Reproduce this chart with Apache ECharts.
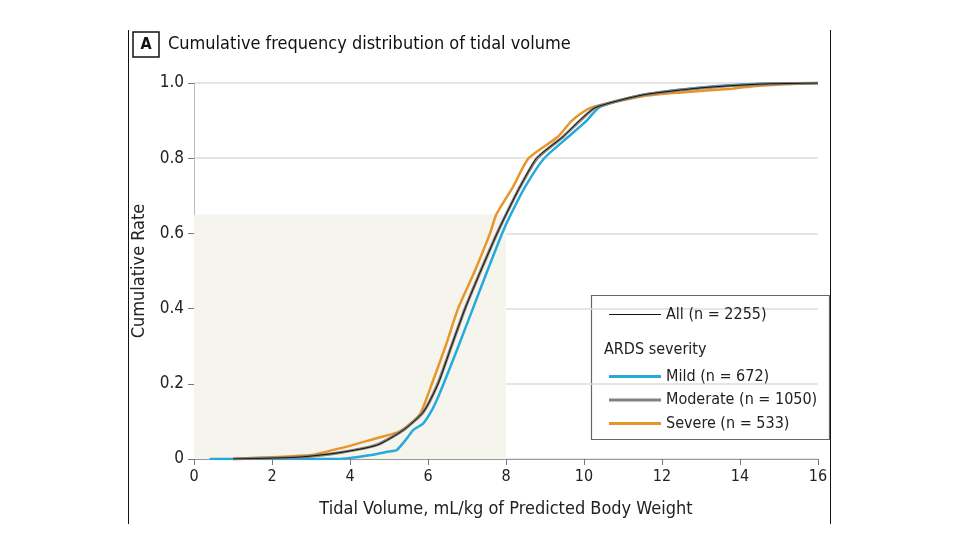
<!DOCTYPE html>
<html><head><meta charset="utf-8">
<script src="https://cdn.jsdelivr.net/npm/echarts@6/dist/echarts.min.js"></script>
<style>html,body{margin:0;padding:0;background:#fff}#c{width:960px;height:540px}</style>
</head><body><div id="c"></div>
<script>
var xTicks = [0,2,4,6,8,10,12,14,16];
var yTicks = [0,0.2,0.4,0.6,0.8,1.0];
var seriesNames = ['All (n = 2255)','Mild (n = 672)','Moderate (n = 1050)','Severe (n = 533)'];
var allData = [[1.0,0],[2.7,0.005],[3.8,0.018],[4.7,0.037],[5.37,0.077],[5.88,0.125],[6.26,0.2],[6.6,0.3],[6.95,0.4],[7.35,0.5],[7.77,0.6],[8.0,0.65],[8.36,0.724],[8.78,0.8],[9.46,0.857],[9.88,0.9],[10.3,0.935],[11.5,0.968],[13,0.987],[14.5,0.997],[16,1]];
var mildData = [[0.4,0],[3.7,0],[4.0,0.003],[4.5,0.01],[5.0,0.02],[5.2,0.024],[5.46,0.055],[5.62,0.077],[5.88,0.095],[6.1,0.13],[6.26,0.165],[6.4,0.2],[6.78,0.3],[7.15,0.4],[7.52,0.5],[7.9,0.6],[8.12,0.65],[8.49,0.724],[8.98,0.8],[9.6,0.857],[10.07,0.9],[10.4,0.936],[11.5,0.968],[13,0.988],[14.5,0.998],[16,1]];
var moderateData = [[1.0,0],[2.7,0.005],[3.8,0.018],[4.7,0.038],[5.37,0.077],[5.88,0.125],[6.25,0.2],[6.6,0.3],[6.95,0.4],[7.35,0.5],[7.77,0.6],[8.0,0.65],[8.36,0.724],[8.8,0.8],[9.46,0.857],[9.9,0.9],[10.3,0.935],[11.5,0.968],[13,0.987],[14.5,0.997],[16,1]];
var severeData = [[1.0,0],[2.97,0.01],[3.2,0.015],[4.0,0.035],[4.7,0.056],[5.2,0.07],[5.5,0.09],[5.8,0.12],[6.1,0.2],[6.45,0.3],[6.77,0.4],[7.2,0.5],[7.59,0.6],[7.75,0.65],[8.18,0.724],[8.58,0.8],[9.33,0.857],[9.69,0.9],[10.15,0.933],[11.5,0.965],[12.5,0.975],[13.8,0.985],[14.5,0.993],[16,1]];
var shadeX = 8, shadeY = 0.65;

var FONT = '"DejaVu Sans Condensed","Liberation Sans Narrow","Noto Sans",sans-serif';
var chart = echarts.init(document.getElementById('c'));
chart.setOption({
  animation:false,
  textStyle:{fontFamily:FONT},
  grid:{left:194,right:142,top:83,bottom:81,containLabel:false},
  xAxis:{type:'value',min:0,max:16,interval:2,
    name:'Tidal Volume, mL/kg of Predicted Body Weight',nameLocation:'middle',nameGap:41,
    nameTextStyle:{fontSize:18,color:'#222',fontFamily:FONT},
    axisLine:{lineStyle:{color:'#999'}},axisTick:{show:true,length:6,lineStyle:{color:'#777'}},
    axisLabel:{fontSize:16,color:'#222',margin:10,fontFamily:FONT},splitLine:{show:false}},
  yAxis:{type:'value',min:0,max:1,interval:0.2,
    name:'Cumulative Rate',nameLocation:'middle',nameGap:45,
    nameTextStyle:{fontSize:18,color:'#222',fontFamily:FONT},
    axisLine:{show:true,lineStyle:{color:'#bbb'}},axisTick:{show:true,length:6,lineStyle:{color:'#777'}},
    axisLabel:{fontSize:17,color:'#222',margin:10,fontFamily:FONT,formatter:function(v){return v===0?'0':v.toFixed(1);}},
    splitLine:{show:true,lineStyle:{color:'#dcdcdc',width:1.5}}},
  legend:[
    {z:20,data:[seriesNames[0]],orient:'vertical',left:604,top:300,itemWidth:52,itemHeight:1.2,icon:'rect',
     textStyle:{fontSize:16,color:'#222',fontFamily:FONT,lineHeight:19}},
    {z:20,data:[seriesNames[1],seriesNames[2],seriesNames[3]],orient:'vertical',left:604,top:362,itemWidth:52,itemHeight:3,itemGap:4.5,icon:'rect',
     textStyle:{fontSize:16,color:'#222',fontFamily:FONT,lineHeight:19}}
  ],
  graphic:[
    {type:'line',shape:{x1:128.5,y1:30,x2:128.5,y2:524},style:{stroke:'#111',lineWidth:1}},
    {type:'line',shape:{x1:830.5,y1:30,x2:830.5,y2:524},style:{stroke:'#111',lineWidth:1}},
    {type:'rect',shape:{x:133,y:32,width:26,height:25},style:{fill:'#fff',stroke:'#111',lineWidth:1.5}},
    {type:'text',x:146,y:44.5,style:{text:'A',fontSize:16,fontWeight:'bold',fill:'#111',align:'center',verticalAlign:'middle',fontFamily:FONT}},
    {type:'text',x:168,y:44.5,style:{text:'Cumulative frequency distribution of tidal volume',fontSize:18,fill:'#111',verticalAlign:'middle',fontFamily:FONT}},
    {type:'rect',z:-1,shape:{x:591.5,y:295.5,width:238,height:144},style:{fill:'#fff',stroke:'#666',lineWidth:1.2}},
    {type:'text',x:604,y:350,style:{text:'ARDS severity',fontSize:16,fill:'#222',verticalAlign:'middle',fontFamily:FONT}}
  ],
  series:[
    {name:seriesNames[1],type:'line',data:mildData,symbol:'none',z:2,smooth:0.2,
     lineStyle:{color:'#27a9dc',width:2.5},itemStyle:{color:'#27a9dc'},
     markArea:{silent:true,itemStyle:{color:'#f5f5ee'},data:[[{coord:[0,0]},{coord:[shadeX,shadeY]}]]}},
    {name:seriesNames[3],type:'line',data:severeData,symbol:'none',z:3,smooth:0.2,
     lineStyle:{color:'#e8962b',width:2.5},itemStyle:{color:'#e8962b'}},
    {name:seriesNames[2],type:'line',data:moderateData,symbol:'none',z:4,smooth:0.2,
     lineStyle:{color:'#87817a',width:3},itemStyle:{color:'#87817a'}},
    {name:seriesNames[0],type:'line',data:allData,symbol:'none',z:5,smooth:0.2,
     lineStyle:{color:'#111',width:1},itemStyle:{color:'#111'}}
  ]
});
</script></body></html>
